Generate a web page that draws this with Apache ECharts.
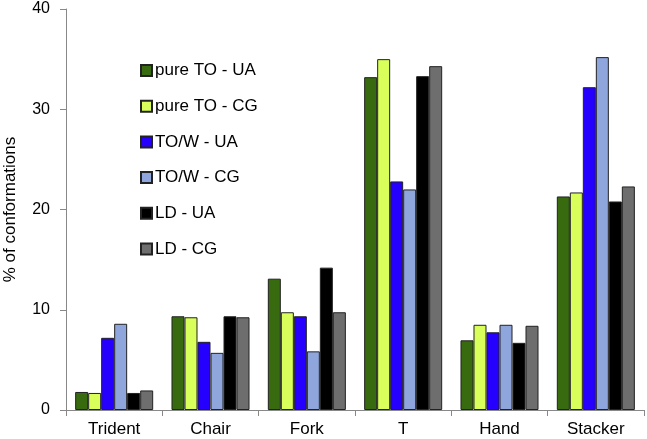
<!DOCTYPE html>
<html><head><meta charset="utf-8">
<script src="https://cdn.jsdelivr.net/npm/echarts@6/dist/echarts.min.js"></script>
<style>html,body{margin:0;padding:0;background:#fff}#c{width:647px;height:439px}</style>
</head><body><div id="c"></div>
<script>
const categories = ['Trident', 'Chair', 'Fork', 'T', 'Hand', 'Stacker'];
const seriesNames = ['pure TO - UA', 'pure TO - CG', 'TO/W - UA', 'TO/W - CG', 'LD - UA', 'LD - CG'];
const pureTO_UA = [1.8, 9.35, 13.1, 33.2, 6.95, 21.3];
const pureTO_CG = [1.7, 9.25, 9.75, 35.0, 8.5, 21.7];
const TOW_UA = [7.2, 6.8, 9.35, 22.8, 7.75, 32.2];
const TOW_CG = [8.6, 5.7, 5.85, 22.0, 8.5, 35.2];
const LD_UA = [1.7, 9.35, 14.2, 33.3, 6.7, 20.8];
const LD_CG = [1.95, 9.25, 9.75, 34.3, 8.4, 22.3];
const yTicks = [0, 10, 20, 30, 40];

const colors = ['#386b10', '#d9ff5b', '#2600ff', '#8ea6dc', '#000000', '#6e6e6e'];
const values = [pureTO_UA, pureTO_CG, TOW_UA, TOW_CG, LD_UA, LD_CG];
const font = 'Liberation Sans, Arial, sans-serif';

const chart = echarts.init(document.getElementById('c'));
chart.setOption({
  animation: false,
  backgroundColor: '#fff',
  grid: {left: 66, right: 3, top: 9, bottom: 29, containLabel: false, outerBoundsMode: 'none'},
  legend: {
    orient: 'vertical', left: 135, top: 57,
    itemWidth: 11, itemHeight: 11, itemGap: 18.7,
    icon: 'rect',
    textStyle: {fontFamily: font, fontSize: 17, color: '#000', padding: [0,0,0,-2]},
    data: seriesNames
  },
  xAxis: {
    type: 'category', data: categories,
    axisLine: {lineStyle: {color: '#888', width: 1}},
    axisTick: {show: true, length: 6, lineStyle: {color: '#888'}, alignWithLabel: false},
    axisLabel: {fontFamily: font, fontSize: 17, color: '#000', margin: 11}
  },
  yAxis: {
    type: 'value', min: yTicks[0], max: yTicks[yTicks.length-1], interval: 10,
    name: '% of conformations', nameLocation: 'middle', nameGap: 47,
    nameTextStyle: {fontFamily: font, fontSize: 17, color: '#000'},
    axisLine: {show: true, lineStyle: {color: '#888'}},
    axisTick: {show: true, length: 6, lineStyle: {color: '#888'}},
    splitLine: {show: false},
    axisLabel: {fontFamily: font, fontSize: 16, color: '#000', margin: 16}
  },
  series: seriesNames.map((n, i) => ({
    name: n, type: 'bar', data: values[i],
    barGap: '0%', barCategoryGap: '19%',
    itemStyle: {color: colors[i], borderColor: '#222', borderWidth: 1}
  }))
});
</script></body></html>
